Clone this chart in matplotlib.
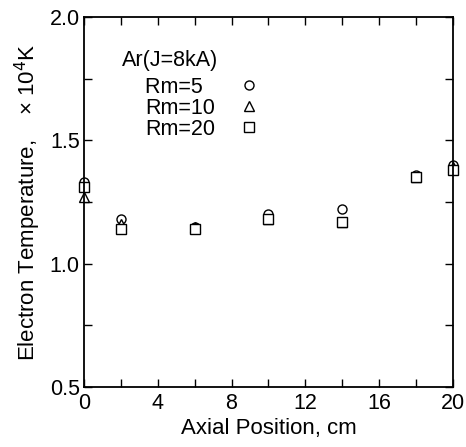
import matplotlib.pyplot as plt
from matplotlib.ticker import MultipleLocator

plt.rcParams['font.family'] = ['Liberation Sans', 'DejaVu Sans']

# axial positions (cm)
x_pos = [0, 2, 6, 10, 14, 18, 20]

# electron temperature (x 10^4 K) for each mirror ratio
te_rm5 = [1.33, 1.18, 1.15, 1.20, 1.22, 1.36, 1.40]
te_rm10 = [1.27, 1.16, 1.15, 1.18, 1.17, 1.35, 1.39]
te_rm20 = [1.31, 1.14, 1.14, 1.18, 1.17, 1.35, 1.38]

labels = ["Rm=5  ", "Rm=10", "Rm=20"]

fig = plt.figure(figsize=(4.66, 4.47), dpi=100)
ax = fig.add_axes([0.180, 0.134, 0.792, 0.828])

mk = dict(linestyle='none', markerfacecolor='white', markeredgecolor='black',
          markeredgewidth=1.0, markersize=6.5, clip_on=False)
ax.plot(x_pos, te_rm5, marker='o', label=labels[0], **mk)
ax.plot(x_pos, te_rm10, marker='^', label=labels[1], **mk)
ax.plot(x_pos, te_rm20, marker='s', label=labels[2], **mk)

ax.set_xlim(0, 20)
ax.set_ylim(0.5, 2.0)
ax.xaxis.set_major_locator(MultipleLocator(4))
ax.xaxis.set_minor_locator(MultipleLocator(2))
ax.yaxis.set_major_locator(MultipleLocator(0.5))
ax.yaxis.set_minor_locator(MultipleLocator(0.25))
ax.yaxis.set_major_formatter(plt.FormatStrFormatter('%.1f'))
ax.tick_params(which='both', direction='in', top=True, right=True,
               labelsize=15.5, width=1.0, length=6, pad=3)
ax.tick_params(axis='x', pad=4)
for s in ax.spines.values():
    s.set_linewidth(1.3)

ax.set_xlabel("Axial Position, cm", fontsize=16, labelpad=3)
ax.set_ylabel("Electron Temperature,    \u00d7 10$^4$K", fontsize=16, labelpad=5)

# legend title drawn as plain text, entries below it
ax.text(0.103, 0.882, "Ar(J=8kA)", transform=ax.transAxes, fontsize=15.5,
        ha='left', va='center')
leg = ax.legend(loc='upper left', bbox_to_anchor=(0.165, 0.838), frameon=False,
                markerfirst=False, fontsize=15.5, handlelength=1.0,
                handletextpad=1.1, labelspacing=0.0, borderpad=0.0,
                borderaxespad=0.0)

fig.savefig('out.png', dpi=100)
